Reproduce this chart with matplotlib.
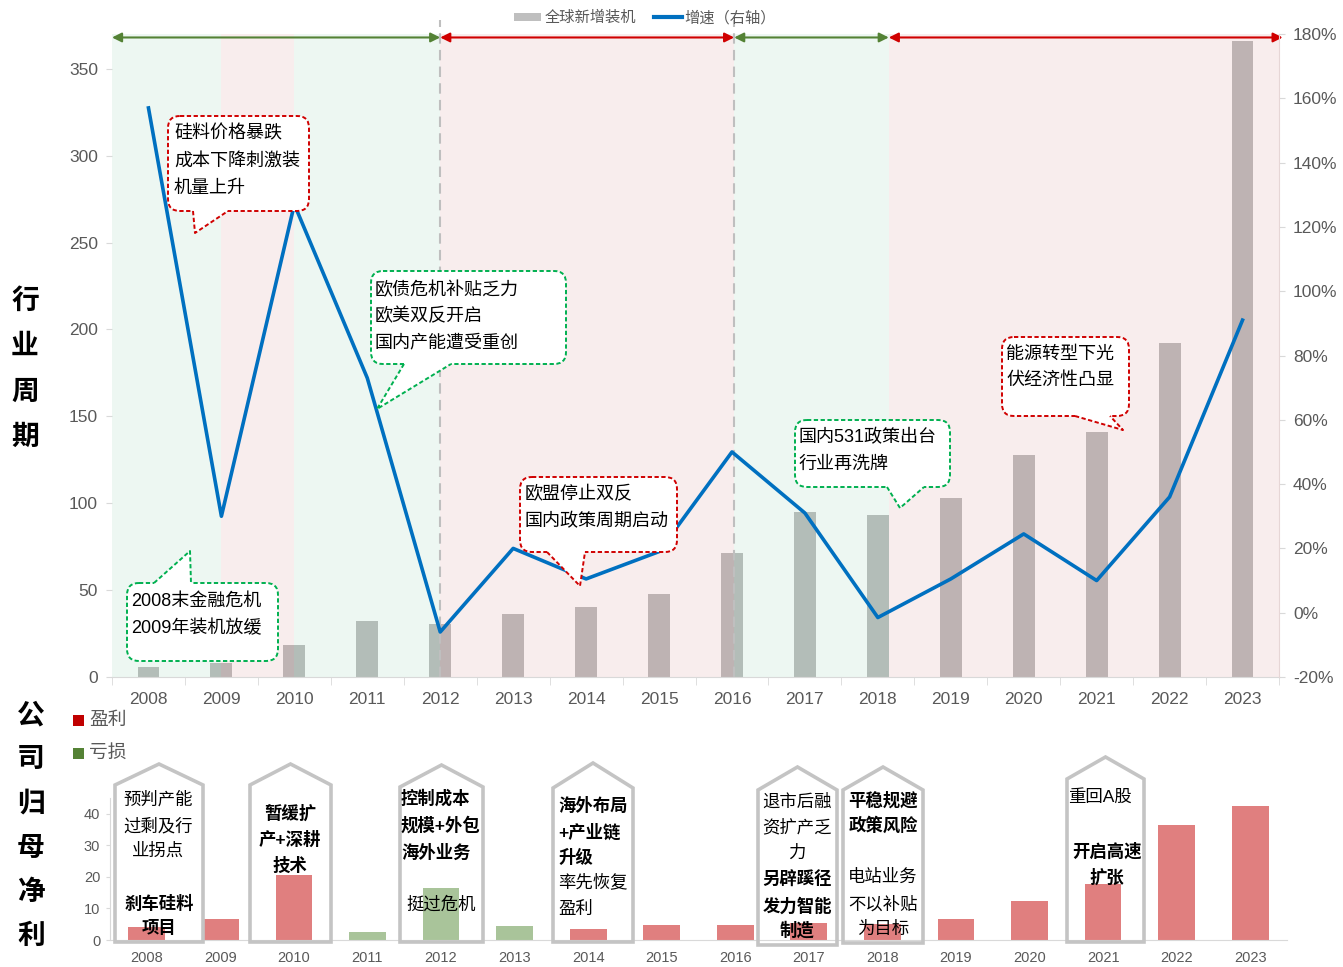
import matplotlib
matplotlib.use('Agg')
import matplotlib.pyplot as plt
from matplotlib.patches import FancyBboxPatch, Polygon, Patch, Rectangle
from matplotlib.lines import Line2D
from matplotlib.ticker import FuncFormatter
import numpy as np

plt.rcParams['font.family'] = ['Liberation Sans', 'Noto Sans CJK SC', 'DejaVu Sans']
plt.rcParams['axes.unicode_minus'] = False

# ---------------- data ----------------
years = [str(y) for y in range(2008, 2024)]
global_installs = [6, 8, 18.5, 32, 30.5, 36, 40, 48, 71.5, 95, 93, 103, 128, 141, 192, 366]
growth_pct = [157, 30, 127, 73, -6, 20, 10.5, 19, 50, 31, -1.5, 10.5, 24.5, 10, 36, 91]
net_profit = [4.2, 6.5, 20.5, 2.5, 16.5, 4.4, 3.5, 4.8, 4.8, 5.4, 5.2, 6.7, 12.4, 17.8, 36.5, 42.5]
profit_status = ['盈利', '盈利', '盈利', '亏损', '亏损', '亏损', '盈利', '盈利',
                 '盈利', '盈利', '盈利', '盈利', '盈利', '盈利', '盈利', '盈利']
phase_edges = [-0.5, 1.0, 2.0, 4.0, 8.03, 10.15, 15.5]
phase_type = ['down', 'up', 'down', 'up', 'down', 'up']
cycle_edges = [-0.5, 4.0, 8.03, 10.15, 15.55]
cycle_type = ['down', 'up', 'down', 'up']

W, H = 1343, 967
fig = plt.figure(figsize=(W / 100, H / 100), dpi=100)


def fx(px):
    return px / W


def fy(py):
    return 1 - py / H


GRAY_TXT = '#595959'
GRID = '#D9D9D9'
x = np.arange(len(years))

# ---------------- top chart ----------------
ax = fig.add_axes([fx(112), fy(677), fx(1279) - fx(112), fy(34) - fy(677)])
ax.set_xlim(-0.5, len(years) - 0.5)
ax.set_ylim(0, 370)
ax.bar(x, global_installs, width=0.3, color='#ABABAB', zorder=1)
band_col = {'down': '#C6E7D7', 'up': '#EBC6C6'}
for a, b, t in zip(phase_edges[:-1], phase_edges[1:], phase_type):
    ax.axvspan(a, b, color=band_col[t], alpha=0.3, lw=0, zorder=2)
for xv in cycle_edges[1:3]:
    ax.plot([xv, xv], [0, 378], color='#BFBFBF', ls=(0, (5, 3)), lw=1.5,
            clip_on=False, zorder=3)
arrow_col = {'down': '#548235', 'up': '#D00000'}
for a, b, t in zip(cycle_edges[:-1], cycle_edges[1:], cycle_type):
    ax.annotate('', xy=(b, 368), xytext=(a, 368),
                arrowprops=dict(arrowstyle='<|-|>', color=arrow_col[t], lw=1.5,
                                shrinkA=0, shrinkB=0, mutation_scale=14),
                annotation_clip=False, zorder=4)

for s in ['top', 'left', 'right']:
    ax.spines[s].set_visible(False)
ax.spines['bottom'].set_color(GRID)
ax.set_yticks(range(0, 351, 50))
ax.tick_params(axis='y', length=4, color=GRID, labelcolor=GRAY_TXT, labelsize=12.5, pad=6)
ax.set_xticks(x)
ax.set_xticklabels(years)
ax.set_xticks(np.arange(-0.5, len(years), 1), minor=True)
ax.tick_params(axis='x', which='major', length=0, labelcolor=GRAY_TXT, labelsize=12.5, pad=11)
ax.tick_params(axis='x', which='minor', length=6, color=GRID)

ax2 = ax.twinx()
ax2.set_ylim(-20, 180)
ax2.plot(x, growth_pct, color='#0070C0', lw=2.6, zorder=3)
ax2.set_yticks(range(-20, 181, 20))
ax2.yaxis.set_major_formatter(FuncFormatter(lambda v, p: f'{int(v)}%'))
for s in ['top', 'left', 'bottom']:
    ax2.spines[s].set_visible(False)
ax2.spines['right'].set_color('#E6D6D6')
ax2.tick_params(axis='y', length=4, color=GRID, labelcolor=GRAY_TXT, labelsize=12.5, pad=6)

handles = [Patch(facecolor='#BFBFBF', edgecolor='none'),
           Line2D([], [], color='#0070C0', lw=3)]
fig.legend(handles, ['全球新增装机', '增速（右轴）'], loc='center',
           bbox_to_anchor=(fx(645), fy(18)), ncol=2, frameon=False, fontsize=11,
           labelcolor=GRAY_TXT, handlelength=1.8, handletextpad=0.2,
           columnspacing=1.2, handleheight=0.5)

# ---------------- bottom chart ----------------
axb = fig.add_axes([fx(110), fy(940), fx(1287) - fx(110), fy(798) - fy(940)])
status_col = {'盈利': '#E07F7F', '亏损': '#A9C49A'}
axb.bar(x, net_profit, width=0.5, color=[status_col[s] for s in profit_status], zorder=2)
axb.set_xlim(-0.5, len(years) - 0.5)
axb.set_ylim(0, 45)
for s in ['top', 'right']:
    axb.spines[s].set_visible(False)
axb.spines['left'].set_color(GRID)
axb.spines['bottom'].set_color(GRID)
axb.set_yticks(range(0, 41, 10))
axb.set_xticks(x)
axb.set_xticklabels(years)
axb.tick_params(axis='y', length=3, color=GRID, labelcolor=GRAY_TXT, labelsize=10.5, pad=4)
axb.tick_params(axis='x', length=0, labelcolor=GRAY_TXT, labelsize=10.5, pad=8)

# ---------------- overlay annotations ----------------
ov = fig.add_axes([0, 0, 1, 1])
ov.set_xlim(0, W)
ov.set_ylim(H, 0)
ov.axis('off')
ov.set_zorder(10)

for i, ch in enumerate('行业周期'):
    ov.text(25, 302 + 45.3 * i, ch, fontsize=20, fontweight='bold', ha='center', va='center')
for i, ch in enumerate('公司归母净利'):
    ov.text(31, 716 + 44.2 * i, ch, fontsize=20, fontweight='bold', ha='center', va='center')

legend_sq = {'盈利': '#C00000', '亏损': '#548235'}
for (lab, yy) in [('盈利', 720), ('亏损', 753)]:
    ov.add_patch(Rectangle((73, yy - 5.5), 11, 11, fc=legend_sq[lab], ec='none'))
    ov.text(89, yy, lab, fontsize=13.5, color=GRAY_TXT, ha='left', va='center')

DASH = (0, (2.2, 1.3))


def callout(box, tail, color, lines, tx, tys, edge='bottom'):
    x0, y0, x1, y1 = box
    ov.add_patch(FancyBboxPatch((x0, y0), x1 - x0, y1 - y0,
                                boxstyle='round,pad=0,rounding_size=12',
                                fc='white', ec=color, lw=1.4, ls=DASH, zorder=5))
    (bx1, by1), (tpx, tpy), (bx2, by2) = tail
    ins = 3 if edge == 'bottom' else -3
    ov.add_patch(Polygon([(bx1, by1 - ins), (bx1, by1), (tpx, tpy), (bx2, by2), (bx2, by2 - ins)],
                         closed=True, fc='white', ec='none', zorder=6))
    ov.plot([bx1, tpx, bx2], [by1, tpy, by2], color=color, lw=1.4, ls=DASH, zorder=7)
    for s, ty in zip(lines, tys):
        ov.text(tx, ty, s, fontsize=13, va='center', ha='left', zorder=8)


RED = '#D00000'
GRN = '#00B050'
callout((168, 116, 309, 211), [(193, 211), (195, 233), (228, 211)], RED,
        ['硅料价格暴跌', '成本下降刺激装', '机量上升'], 174, [134, 161, 188])
callout((371, 271, 566, 364), [(404, 364), (377, 409), (451, 364)], GRN,
        ['欧债危机补贴乏力', '欧美双反开启', '国内产能遭受重创'], 375, [290, 316, 343])
callout((127, 583, 278, 661), [(154, 583), (190, 551), (191, 583)], GRN,
        ['2008末金融危机', '2009年装机放缓'], 131, [601, 628], edge='top')
callout((520, 477, 677, 552), [(547, 552), (580, 586), (585, 552)], RED,
        ['欧盟停止双反', '国内政策周期启动'], 525, [495, 522])
callout((795, 420, 950, 487), [(887, 487), (900, 508), (924, 487)], GRN,
        ['国内531政策出台', '行业再洗牌'], 799, [438, 464])
callout((1002, 337, 1129, 416), [(1075, 416), (1123, 430), (1110, 416)], RED,
        ['能源转型下光', '伏经济性凸显'], 1006, [354, 381])


def house(xl, xr, peak_y, sh_y, bot_y, texts):
    xc = (xl + xr) / 2
    ov.add_patch(Polygon([(xl, bot_y), (xl, sh_y), (xc, peak_y), (xr, sh_y), (xr, bot_y)],
                         closed=True, fc='none', ec='#C4C4C4', lw=2.6, joinstyle='miter', zorder=5))
    for (s, tx, ty, ha, bold) in texts:
        ov.text(tx, ty, s, fontsize=12.5, ha=ha, va='center',
                fontweight='bold' if bold else 'normal', zorder=8)


house(115, 203, 764, 785, 942, [('预判产能', 158, 799, 'center', False),
                                ('过剩及行', 158, 826, 'center', False),
                                ('业拐点', 158, 851, 'center', False),
                                ('刹车硅料', 159, 903, 'center', True),
                                ('项目', 159, 928, 'center', True)])
house(250, 331, 764, 785, 942, [('暂缓扩', 290, 813, 'center', True),
                                ('产+深耕', 290, 839, 'center', True),
                                ('技术', 290, 865, 'center', True)])
house(400, 483, 765, 787, 942, [('控制成本', 401, 798, 'left', True),
                                ('规模+外包', 401, 825, 'left', True),
                                ('海外业务', 401, 852, 'left', True),
                                ('挺过危机', 441, 904, 'center', False)])
house(553, 633, 763, 788, 942, [('海外布局', 558, 805, 'left', True),
                                ('+产业链', 558, 832, 'left', True),
                                ('升级', 558, 857, 'left', True),
                                ('率先恢复', 558, 882, 'left', False),
                                ('盈利', 558, 909, 'left', False)])
house(758, 837, 767, 790, 945, [('退市后融', 797, 802, 'center', False),
                                ('资扩产乏', 797, 827, 'center', False),
                                ('力', 797, 853, 'center', False),
                                ('另辟蹊径', 797, 879, 'center', True),
                                ('发力智能', 797, 906, 'center', True),
                                ('制造', 797, 930, 'center', True)])
house(843, 923, 767, 790, 943, [('平稳规避', 883, 800, 'center', True),
                                ('政策风险', 883, 825, 'center', True),
                                ('电站业务', 883, 877, 'center', False),
                                ('不以补贴', 883, 904, 'center', False),
                                ('为目标', 883, 929, 'center', False)])
house(1067, 1144, 757, 779, 942, [('重回A股', 1100, 797, 'center', False),
                                  ('开启高速', 1107, 851, 'center', True),
                                  ('扩张', 1107, 877, 'center', True)])

fig.savefig('out.png', dpi=100)
